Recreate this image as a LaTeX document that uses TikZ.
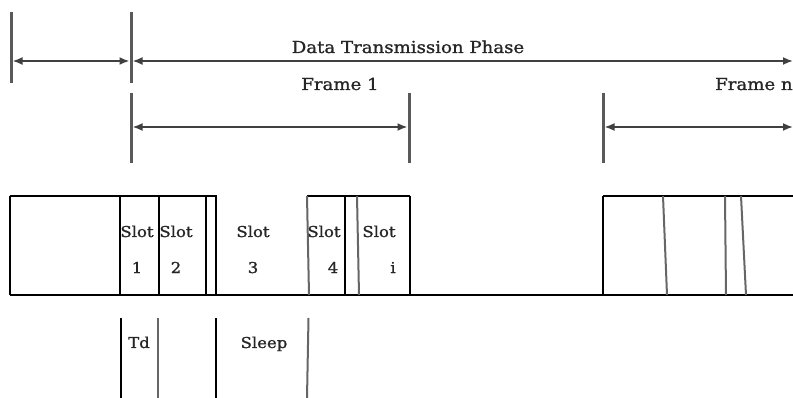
\documentclass[tikz,border=0pt]{standalone}
\usepackage{fontspec}
\setmainfont{DejaVu Serif}[FakeStretch=1.1,FakeBold=1.2]
\usetikzlibrary{arrows.meta}
\tikzset{
  bar/.style={line width=3pt, draw=black!65},
  dimarrow/.style={line width=1.8pt, draw=black!75, {Latex[length=10pt,width=8pt]}-{Latex[length=10pt,width=8pt]}},
  boxline/.style={line width=1.6pt, draw=black},
  greyline/.style={line width=2pt, draw=black!60},
  biglabel/.style={font=\fontsize{16.5}{18}\selectfont, inner sep=0pt, anchor=base, text=black!85},
  slotlabel/.style={font=\fontsize{15}{17}\selectfont, inner sep=0pt, anchor=base, text=black!85},
}
\begin{document}
\begin{tikzpicture}[x=1pt,y=-1pt]
\useasboundingbox (0,0) rectangle (793,398);
% ---- top dimension bars
\coordinate (a1) at (11,12);  \coordinate (a2) at (11,83);
\coordinate (b1) at (131,12); \coordinate (b2) at (131,83);
\coordinate (c1) at (131,93); \coordinate (c2) at (131,163);
\coordinate (d1) at (409,93); \coordinate (d2) at (409,163);
\coordinate (e1) at (603,93); \coordinate (e2) at (603,163);
\draw[bar] (a1) -- (a2);
\draw[bar] (b1) -- (b2);
\draw[bar] (c1) -- (c2);
\draw[bar] (d1) -- (d2);
\draw[bar] (e1) -- (e2);
\coordinate (p1) at (12.5,61);  \coordinate (p2) at (129.5,61);
\coordinate (p3) at (132.5,61); \coordinate (p4) at (793,61);
\coordinate (f1) at (132.5,127); \coordinate (f2) at (407.5,127);
\coordinate (g1) at (604.5,127); \coordinate (g2) at (793,127);
\draw[dimarrow] (p1) -- (p2);
\draw[dimarrow] (p3) -- (p4);
\draw[dimarrow] (f1) -- (f2);
\draw[dimarrow] (g1) -- (g2);
\node[biglabel] (phase) at (408,53) {Data Transmission Phase};
\node[biglabel] (frame1) at (340,90) {Frame 1};
\node[biglabel, anchor=base west] (framen) at (715,90) {Frame n};
% ---- slot boxes
\draw[boxline] (10,196) -- (217,196);
\draw[boxline] (307,196) -- (410,196);
\draw[boxline] (603,196) -- (793,196);
\draw[boxline] (10,295) -- (793,295);
\foreach \x in {10,120,159,206,216,345,410,603}
  \draw[boxline] (\x,196) -- (\x,295);
\draw[greyline] (307,196) -- (309,295);
\draw[greyline] (357,196) -- (359,295);
\draw[greyline] (663,196) -- (667,295);
\draw[greyline] (725,196) -- (726,295);
\draw[greyline] (741,196) -- (746,295);
% ---- lower markers
\draw[line width=1.3pt] (121,318) -- (121,398);
\draw[greyline] (158,318) -- (158,398);
\draw[line width=1.4pt] (216,318) -- (216,398);
\draw[greyline] (308.5,318) -- (307,398);
% ---- slot labels
\node[slotlabel] (s1) at (137,237) {Slot};
\node[slotlabel] (n1) at (137,273) {1};
\node[slotlabel] (s2) at (176,237) {Slot};
\node[slotlabel] (n2) at (176,273) {2};
\node[slotlabel] (s3) at (253,237) {Slot};
\node[slotlabel] (n3) at (253,273) {3};
\node[slotlabel] (s4) at (324,237) {Slot};
\node[slotlabel] (n4) at (333,273) {4};
\node[slotlabel] (s5) at (379,237) {Slot};
\node[slotlabel] (n5) at (393,273) {i};
\node[slotlabel] (td) at (139,348) {Td};
\node[slotlabel] (sleep) at (264,348) {Sleep};
\end{tikzpicture}
\end{document}
